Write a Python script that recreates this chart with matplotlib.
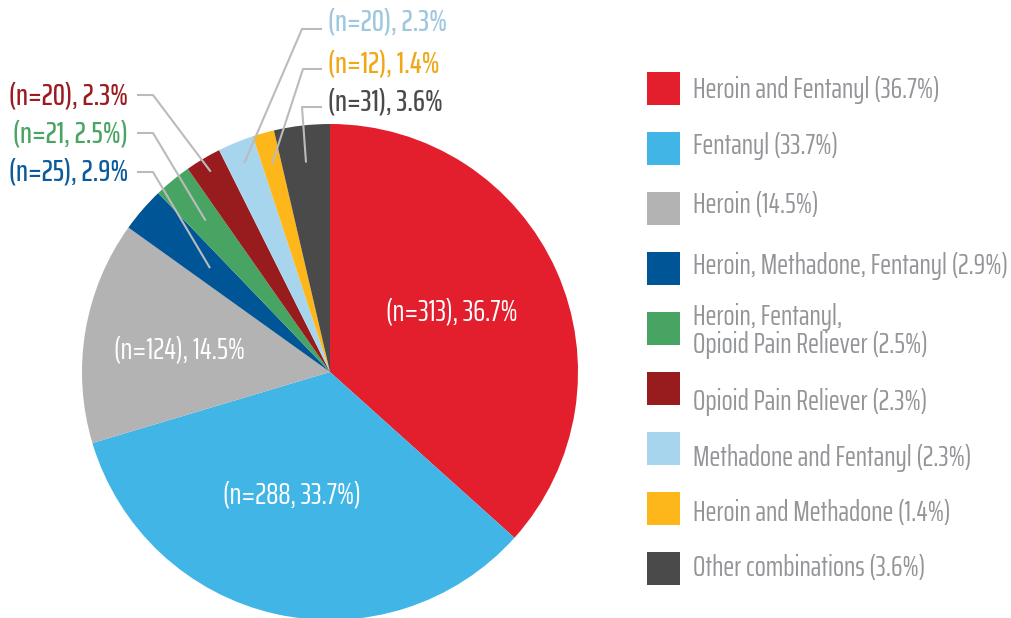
import matplotlib.pyplot as plt
from matplotlib.patches import Rectangle
import numpy as np

# data
categories = ['Heroin and Fentanyl', 'Fentanyl', 'Heroin', 'Heroin, Methadone, Fentanyl',
              'Heroin, Fentanyl,\nOpioid Pain Reliever', 'Opioid Pain Reliever',
              'Methadone and Fentanyl', 'Heroin and Methadone', 'Other combinations']
counts = [313, 288, 124, 25, 21, 20, 20, 12, 31]
percents = [36.7, 33.7, 14.5, 2.9, 2.5, 2.3, 2.3, 1.4, 3.6]
slice_labels = ['(n=313), 36.7%', '(n=288, 33.7%)', '(n=124), 14.5%', '(n=25), 2.9%',
                '(n=21, 2.5%)', '(n=20), 2.3%', '(n=20), 2.3%', '(n=12), 1.4%', '(n=31), 3.6%']
colors = ['#E31E2D', '#41B6E6', '#B3B3B3', '#005596', '#48A463', '#981B1E',
          '#A7D5EE', '#FDB71A', '#4A4A4A']
label_colors = ['white', 'white', 'white', '#0B5B9C', '#4AA564', '#9B1B20',
                '#9DC8E0', '#F0A818', '#4A4A4A']

FONT = ['Saira ExtraCondensed', 'DejaVu Sans']
plt.rcParams['font.family'] = FONT

W, H = 1011, 618
fig = plt.figure(figsize=(W / 100, H / 100), dpi=100)
ax = fig.add_axes([0, 0, 1, 1])

cx, cy, r = 330, 372, 248
# y axis inverted -> counterclock=True draws clockwise on screen; start at top
wedges, _ = ax.pie(counts, colors=colors, startangle=-90, counterclock=True,
                   center=(cx, cy), radius=r, frame=True,
                   wedgeprops=dict(linewidth=0))
ax.set_xlim(0, W)
ax.set_ylim(H, 0)
ax.axis('off')

def mid_point(i, frac):
    w = wedges[i]
    ang = np.deg2rad((w.theta1 + w.theta2) / 2)
    return cx + frac * r * np.cos(ang), cy + frac * r * np.sin(ang)

# inside labels
inside_pos = {0: (452, 312), 1: (292, 495), 2: (180, 350)}
for i, (x, y) in inside_pos.items():
    ax.text(x, y, slice_labels[i], color='white', fontsize=22, ha='center', va='center')

# outside labels with leader lines
line_c = '#BBBBBB'
outside = {
    6: dict(text=(328, 22), elbow=(322, 29), knee=(302, 29), ha='left', frac=0.91),
    7: dict(text=(328, 64), elbow=(322, 69), knee=(303, 69), ha='left', frac=0.87),
    8: dict(text=(328, 102), elbow=(322, 107), knee=(302, 107), ha='left', frac=0.85),
    5: dict(text=(128, 96), elbow=(137, 95), knee=(153, 95), ha='right', frac=0.94),
    4: dict(text=(128, 134), elbow=(137, 133), knee=(153, 133), ha='right', frac=0.79),
    3: dict(text=(128, 172), elbow=(137, 172), knee=(153, 172), ha='right', frac=0.64),
}
for i, o in outside.items():
    px, py = mid_point(i, o['frac'])
    ax.plot([o['elbow'][0], o['knee'][0], px], [o['elbow'][1], o['knee'][1], py],
            color=line_c, lw=1.5, solid_capstyle='butt')
    ax.text(o['text'][0], o['text'][1], slice_labels[i], color=label_colors[i],
            fontsize=22, fontweight='medium', ha=o['ha'], va='center')

# legend
legend_text_y = [90, 146, 205, 266, 331, 402, 458, 513, 568]
for k, (cat, pct) in enumerate(zip(categories, percents)):
    sy = 88 + 60 * k
    ax.add_patch(Rectangle((647, sy - 16.5), 33, 33, color=colors[k], lw=0))
    ax.text(693, legend_text_y[k], f'{cat} ({pct}%)', color='#939598',
            fontsize=21, ha='left', va='center', linespacing=1.0)

fig.savefig('out.png', dpi=100, facecolor='white')
